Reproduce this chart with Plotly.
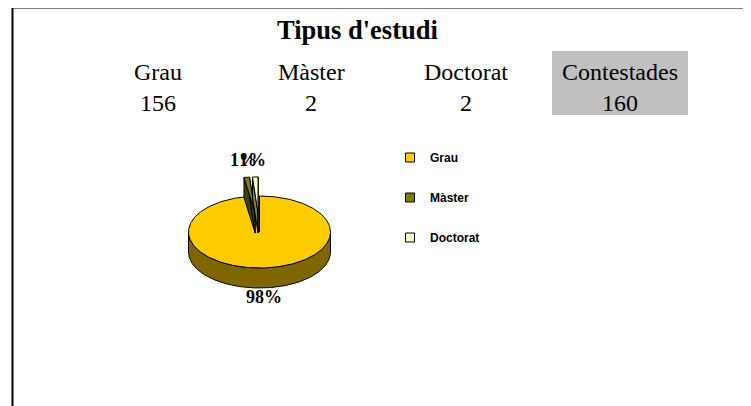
import numpy as np
import plotly.graph_objects as go

# Tipus d'estudi (enquesta)
categories = ["Grau", "Màster", "Doctorat"]
counts = [156, 2, 2]
total_label = "Contestades"
total = 160
title = "Tipus d'estudi"

top_colors = ["#FFCC00", "#808000", "#FFFFCC"]
side_colors = ["#806600", "#404000", "#808066"]
explode = [0, 0.53, 0.53]

W, H = 751, 406
OFF = 8  # page body margin, so axis units == window pixels
# 3d pie geometry (pixel space)
cx, cy = 259.5, 232
rx, ry = 71, 36
depth = 20
serif = "Liberation Serif"


def pt(theta, r=1.0, off=(0, 0)):
    t = np.radians(theta)
    return off[0] + cx + r * rx * np.sin(t), off[1] + cy - r * ry * np.cos(t)


def arc(a0, a1, off=(0, 0), dy=0):
    n = max(2, int(abs(a1 - a0)) + 1)
    th = np.linspace(a0, a1, n)
    xs, ys = pt(th, 1.0, off)
    return list(xs), list(ys + dy)


fig = go.Figure()

angles = np.cumsum([0] + [c / total * 360 for c in counts])
for i, cat in enumerate(categories):
    a0, a1 = angles[i], angles[i + 1]
    mid = (a0 + a1) / 2
    off = (explode[i] * rx * np.sin(np.radians(mid)), -explode[i] * ry * np.cos(np.radians(mid)))
    tip = pt(0, 0, off)
    ax, ay = arc(a0, a1, off)

    # side faces: radial walls + visible front part of the rim
    sx, sy = [], []
    for px, py in [(ax[0], ay[0]), (ax[-1], ay[-1])]:
        sx += [tip[0], px, px, tip[0], tip[0], None]
        sy += [tip[1], py, py + depth, tip[1] + depth, tip[1], None]
    lo, hi = max(a0, 90), min(a1, 270)
    if hi > lo:
        fx, fy = arc(lo, hi, off)
        bx, by = arc(lo, hi, off, depth)
        sx += fx + bx[::-1] + [fx[0], None]
        sy += fy + by[::-1] + [fy[0], None]
    fig.add_trace(go.Scatter(x=sx, y=sy, mode="lines", fill="toself",
                             fillcolor=side_colors[i], line=dict(color="black", width=1),
                             showlegend=False, hoverinfo="skip"))
    fig.add_trace(go.Scatter(x=[tip[0]] + ax + [tip[0]], y=[tip[1]] + ay + [tip[1]],
                             mode="lines", fill="toself", fillcolor=top_colors[i],
                             line=dict(color="black", width=1), name=cat,
                             showlegend=False, hoverinfo="name"))

    # percentage label
    pct = counts[i] / total * 100
    lx, ly = pt(mid, 1.15, off)
    upper = np.cos(np.radians(mid)) > 0
    fig.add_annotation(x=lx - 2, y=ly if upper else ly + depth, text=f"<b>{pct:.0f}%</b>",
                       showarrow=False, yanchor="bottom" if upper else "top",
                       yshift=0 if upper else 8,
                       font=dict(family=serif, size=18, color="black"))

# legend entries
for i, cat in enumerate(categories):
    fig.add_trace(go.Scatter(x=[None], y=[None], mode="markers", name=cat, legendgroup=cat,
                             marker=dict(symbol="square", size=9, color=top_colors[i],
                                         line=dict(color="black", width=1))))

# summary table above the pie
col_x = [158, 311, 466, 620]
heads = categories + [total_label]
vals = counts + [total]
for x, h, v in zip(col_x, heads, vals):
    fig.add_annotation(x=x, y=72, text=h, showarrow=False,
                       font=dict(family=serif, size=24, color="black"))
    fig.add_annotation(x=x, y=103, text=str(v), showarrow=False,
                       font=dict(family=serif, size=24, color="black"))
fig.add_annotation(x=357, y=30, text=f"<b>{title}</b>", showarrow=False,
                   font=dict(family=serif, size=26.5, color="black"))

fig.update_layout(
    width=W, height=H,
    margin=dict(l=0, r=0, t=0, b=0),
    paper_bgcolor="white", plot_bgcolor="white",
    xaxis=dict(range=[OFF, W + OFF], visible=False, fixedrange=True),
    yaxis=dict(range=[H + OFF, OFF], visible=False, fixedrange=True),
    legend=dict(x=(390 - OFF) / W, y=1 - (143 - OFF) / H, xanchor="left", yanchor="top",
                tracegroupgap=21, itemwidth=30,
                font=dict(family="Liberation Sans", size=12, color="black", weight="bold")),
    shapes=[
        dict(type="rect", xref="x", yref="y", x0=552, x1=688, y0=51, y1=115,
             fillcolor="#C0C0C0", line=dict(width=0), layer="below"),
        dict(type="line", xref="x", yref="y", x0=12.5, x1=12.5, y0=7, y1=H + OFF,
             line=dict(color="black", width=2)),
        dict(type="line", xref="x", yref="y", x0=12, x1=W + OFF, y0=7.5, y1=7.5,
             line=dict(color="black", width=2)),
    ],
)

fig.write_html("out.html")
